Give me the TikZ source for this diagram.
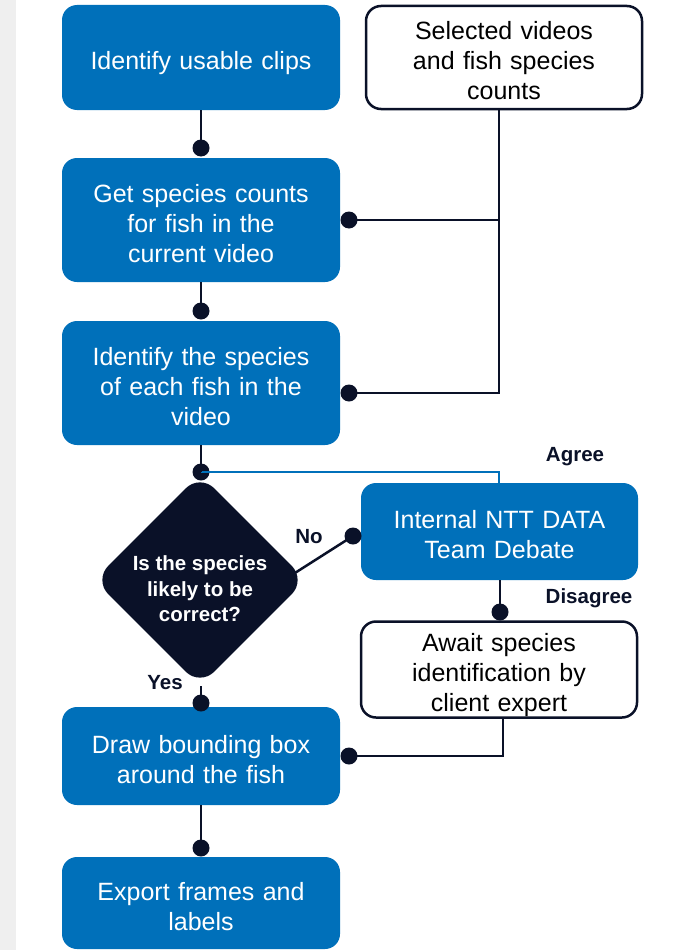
\documentclass[tikz,border=0pt]{standalone}
\usepackage{fontspec}
\setmainfont{Liberation Sans}
\usetikzlibrary{shapes.geometric,calc}
\definecolor{nttblue}{HTML}{0070BA}
\definecolor{navy}{HTML}{0A1128}
\definecolor{stripgray}{HTML}{EFEFEF}
\begin{document}
\begin{tikzpicture}[x=1pt,y=-1pt,
  boxtext/.style={align=center, inner sep=0pt,
    font=\fontsize{25}{30}\selectfont,
    execute at begin node={\rule{0pt}{30pt}},
    execute at end node={\rule[-6pt]{0pt}{6pt}}},
  bluebox/.style={boxtext, rectangle, rounded corners=15pt, fill=nttblue, text=white,
    minimum width=278pt, text width=262pt},
  whitebox/.style={boxtext, rectangle, rounded corners=15pt, draw=navy, line width=2.5pt,
    fill=white, text=black, minimum width=276pt, text width=250pt},
  dot/.style={circle, fill=navy, minimum size=17pt, inner sep=0pt},
  conn/.style={draw=navy, line width=2.5pt},
  blueconn/.style={draw=nttblue, line width=2.2pt},
  lbl/.style={text=navy, font=\bfseries\fontsize{20.5}{25}\selectfont, inner sep=0pt},
  dectext/.style={text=white, align=center, inner sep=0pt,
    font=\bfseries\fontsize{20.5}{25.5}\selectfont}
]
\useasboundingbox (0,0) rectangle (677,950);
\fill[white] (0,0) rectangle (677,950);
\fill[stripgray] (0,0) rectangle (16,950);

% boxes
\node[bluebox, minimum height=105pt] (b1) at (201,57.5) {Identify usable clips};
\node[whitebox, minimum height=103pt] (sel) at (504,57.5) {Selected videos\\and fish species\\counts};
\node[bluebox, minimum height=124pt] (b2) at (201,220) {Get species counts\\for fish in the\\current video};
\node[bluebox, minimum height=124pt] (b3) at (201,383) {Identify the species\\of each fish in the\\video};
\node[bluebox, minimum width=277pt, minimum height=97pt] (ntt) at (499.5,531.5) {Internal NTT DATA\\Team Debate};
\node[whitebox, minimum height=95pt] (await) at (499,669.5) {Await species\\identification by\\client expert};
\node[bluebox, minimum height=98pt] (b4) at (201,756) {Draw bounding box\\around the fish};
\node[bluebox, minimum height=92pt] (b5) at (201,903) {Export frames and\\labels};

% decision
\node[diamond, fill=navy, minimum width=212pt, minimum height=212pt, inner sep=0pt,
  rounded corners=20pt] (dec) at (200,580) {};
\node[dectext] (dect) at (200,589) {Is the species\\likely to be\\correct?};

% dots
\node[dot] (d1) at (201,148) {};
\node[dot] (d2) at (201,311) {};
\node[dot] (d3) at (201,472) {};
\node[dot] (d4) at (349,220) {};
\node[dot] (d5) at (349,393) {};
\node[dot] (d6) at (353,536) {};
\node[dot] (d7) at (500,612) {};
\node[dot] (d8) at (201,703) {};
\node[dot] (d9) at (349,756) {};
\node[dot] (d10) at (201,848) {};
\coordinate (j1) at (499,220);
\coordinate (j2) at (499,393);
\coordinate (j3) at (499,472);

% connectors
\draw[blueconn] (d3.center) -- (j3) -- (ntt.north -| j3);
\draw[conn] (b1.south) -- (d1.center);
\draw[conn] (b2.south) -- (d2.center);
\draw[conn] (b3.south) -- (d3.center);
\draw[conn] (sel.south -| j1) -- (j2) -- (d5.center);
\draw[conn] (j1) -- (d4.center);
\draw[conn] ($(dec.east)+(-16,-4)$) -- (d6.center);
\draw[conn] (ntt.south -| d7) -- (d7.center);
\draw[conn] (dec.south -| d8) -- (d8.center);
\draw[conn] ($(await.south)+(4,0)$) |- (d9.center);
\draw[conn] (b4.south) -- (d10.center);

% labels
\node[lbl] (lagree) at (575,457) {Agree};
\node[lbl] (lno) at (309,537) {No};
\node[lbl] (ldis) at (589,598) {Disagree};
\node[lbl] (lyes) at (165,683) {Yes};
\end{tikzpicture}
\end{document}
